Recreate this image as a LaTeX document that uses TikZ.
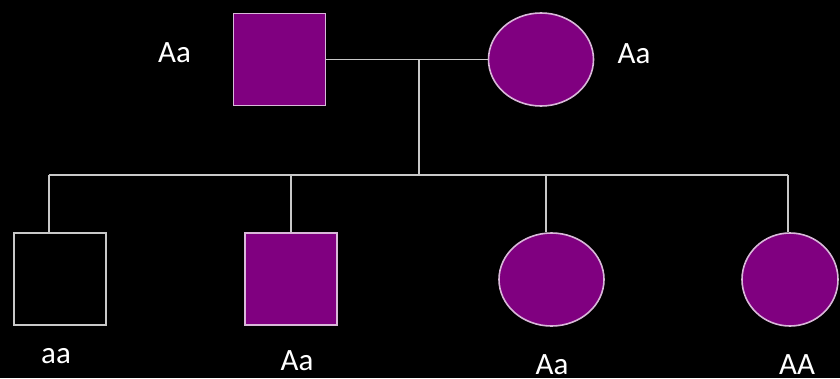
\documentclass[tikz,border=0pt]{standalone}
\usepackage{fontspec}
\setmainfont{Carlito}
\usetikzlibrary{shapes.geometric}
\definecolor{affected}{HTML}{800080}
\definecolor{rim}{HTML}{D9B8D9}
\definecolor{wire}{HTML}{C8C8C8}
\begin{document}
\begin{tikzpicture}[x=1pt,y=-1pt,
  male/.style={rectangle,draw=rim,line width=1.6pt,minimum width=92pt,minimum height=92pt,inner sep=0pt},
  female/.style={ellipse,draw=rim,line width=1.6pt,inner sep=0pt},
  filled/.style={fill=affected},
  unaffected/.style={draw=wire,fill=black},
  geno/.style={text=white,font=\fontsize{31}{31}\selectfont,anchor=base,inner sep=0pt},
  link/.style={draw=wire,line width=1.6pt}]
  % background
  \fill[black] (0,0) rectangle (840,378);
  \useasboundingbox (0,0) rectangle (840,378);
  % parents
  \node[male,filled] (father) at (279.5,59.5) {};
  \node[female,filled,minimum width=105pt,minimum height=93pt] (mother) at (541,59.5) {};
  % children
  \node[male,unaffected] (c1) at (60,279) {};
  \node[male,filled] (c2) at (291,279) {};
  \node[female,filled,minimum width=105pt,minimum height=93pt] (c3) at (551.5,279.5) {};
  \node[female,filled,minimum width=96pt,minimum height=93pt] (c4) at (790,279.5) {};
  % junction points
  \coordinate (mate) at (419,60);
  \coordinate (sib) at (419,175);
  \coordinate (s1) at (49,175);
  \coordinate (s2) at (291,175);
  \coordinate (s3) at (546,175);
  \coordinate (s4) at (788,175);
  % mating line and descent
  \draw[link] (father.east) -- (mother.west);
  \draw[link] (mate) -- (sib);
  \draw[link] (s1) -- (s4);
  \draw[link] (s1) -- (s1 |- c1.north);
  \draw[link] (s2) -- (c2.north);
  \draw[link] (s3) -- (s3 |- c3.north);
  \draw[link] (s4) -- (s4 |- c4.north);
  % genotypes
  \node[geno] (g0) at (174.5,62) {Aa};
  \node[geno] (g1) at (634,63) {Aa};
  \node[geno] (g2) at (56,363) {aa};
  \node[geno] (g3) at (297,370) {Aa};
  \node[geno] (g4) at (552,374) {Aa};
  \node[geno] (g5) at (797,374) {AA};
\end{tikzpicture}
\end{document}
